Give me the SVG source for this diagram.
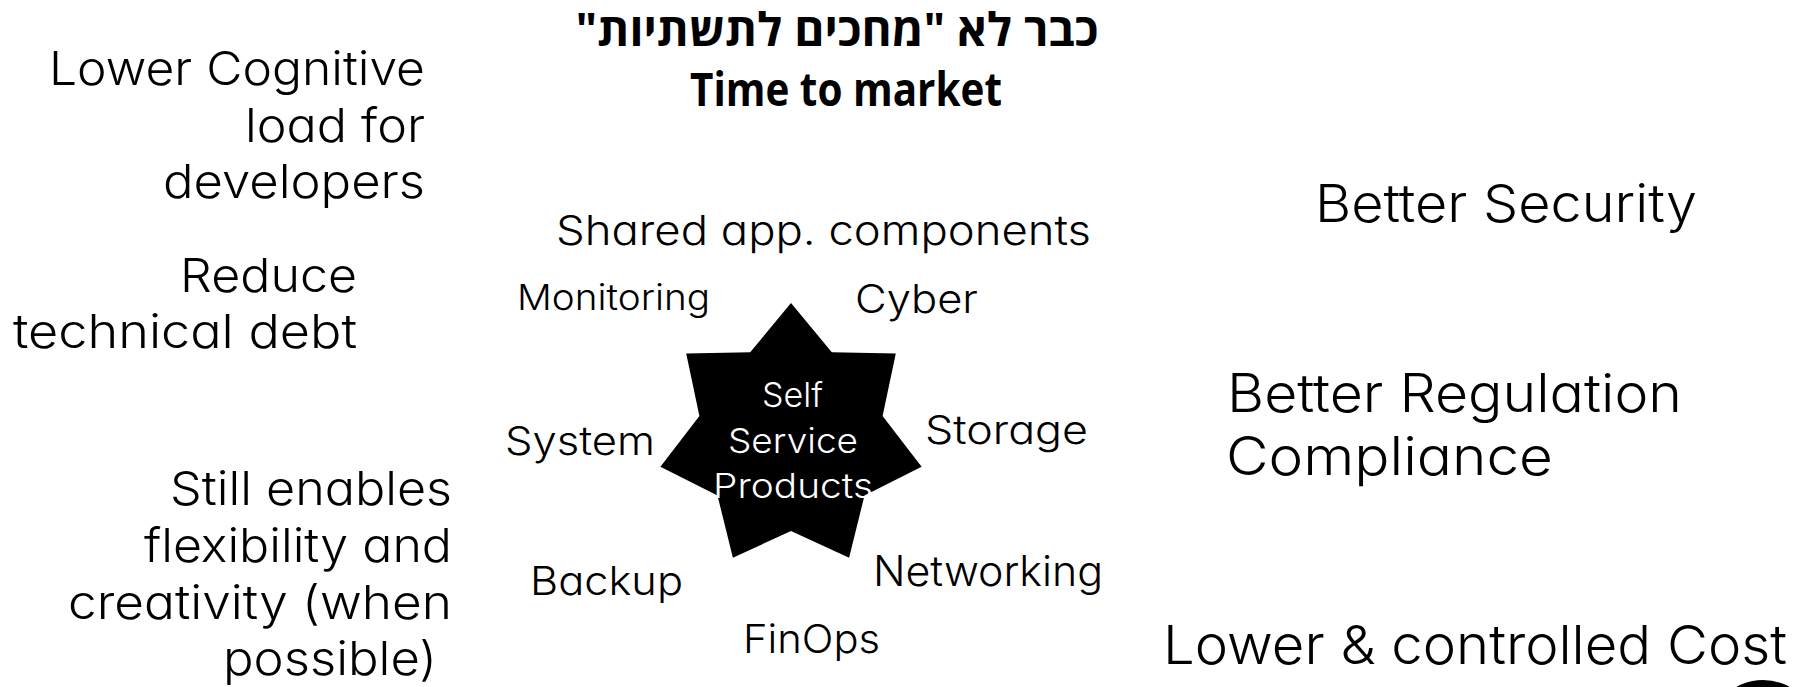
<svg xmlns="http://www.w3.org/2000/svg" width="1808" height="687" viewBox="0 0 1808 687">
<style>
.t{font-family:Inter,"Noto Sans",sans-serif;font-weight:300;fill:#000;font-feature-settings:"cv11" 1;}
.w{fill:#fff;}
.b{font-family:"Open Sans","Liberation Sans","DejaVu Sans",sans-serif;font-weight:700;fill:#000;}
</style>
<rect width="1808" height="687" fill="#fff"/>
<g id="title">
<text class="b" x="837" y="46" font-size="46" text-anchor="middle" direction="rtl">כבר לא "מחכים לתשתיות"</text>
<text class="b" x="690" y="106" font-size="46" textLength="312" lengthAdjust="spacingAndGlyphs">Time to market</text>
</g>
<g id="left-benefits">
<text class="t" x="49" y="85" font-size="47" textLength="376" lengthAdjust="spacingAndGlyphs">Lower Cognitive</text>
<text class="t" x="245" y="141.5" font-size="47" textLength="180" lengthAdjust="spacingAndGlyphs">load for</text>
<text class="t" x="163" y="198" font-size="47" textLength="262" lengthAdjust="spacingAndGlyphs">developers</text>
<text class="t" x="180" y="291.5" font-size="47" textLength="177" lengthAdjust="spacingAndGlyphs">Reduce</text>
<text class="t" x="13" y="348" font-size="47" textLength="344" lengthAdjust="spacingAndGlyphs">technical debt</text>
<text class="t" x="170" y="505" font-size="47" textLength="282" lengthAdjust="spacingAndGlyphs">Still enables</text>
<text class="t" x="144" y="562" font-size="47" textLength="308" lengthAdjust="spacingAndGlyphs">flexibility and</text>
<text class="t" x="68" y="619" font-size="47" textLength="384" lengthAdjust="spacingAndGlyphs">creativity (when</text>
<text class="t" x="223" y="675" font-size="47" textLength="214" lengthAdjust="spacingAndGlyphs">possible)</text>
</g>
<g id="star">
<polygon fill="#000" points="791,303 831.8,352.3 895.8,353.5 882.6,416.1 921.6,466.8 864.5,495.6 849.1,557.7 791,531 732.9,557.7 717.5,495.6 660.4,466.8 699.4,416.1 686.2,353.5 750.2,352.3"/>
<text class="t w" x="762" y="407" font-size="34" textLength="61" lengthAdjust="spacingAndGlyphs">Self</text>
<text class="t w" x="728" y="453" font-size="34" textLength="130" lengthAdjust="spacingAndGlyphs">Service</text>
<text class="t w" x="713" y="498" font-size="34" textLength="160" lengthAdjust="spacingAndGlyphs">Products</text>
</g>
<g id="products">
<text class="t" x="556" y="245" font-size="41" textLength="535" lengthAdjust="spacingAndGlyphs">Shared app. components</text>
<text class="t" x="517" y="310" font-size="36" textLength="193" lengthAdjust="spacingAndGlyphs">Monitoring</text>
<text class="t" x="855" y="313" font-size="40" textLength="123" lengthAdjust="spacingAndGlyphs">Cyber</text>
<text class="t" x="505" y="455" font-size="40" textLength="150" lengthAdjust="spacingAndGlyphs">System</text>
<text class="t" x="925" y="444" font-size="40" textLength="163" lengthAdjust="spacingAndGlyphs">Storage</text>
<text class="t" x="873" y="586" font-size="42" textLength="230" lengthAdjust="spacingAndGlyphs">Networking</text>
<text class="t" x="530" y="595" font-size="40" textLength="153" lengthAdjust="spacingAndGlyphs">Backup</text>
<text class="t" x="743" y="653" font-size="40" textLength="137" lengthAdjust="spacingAndGlyphs">FinOps</text>
</g>
<g id="right-benefits">
<text class="t" x="1315" y="222" font-size="52" textLength="382" lengthAdjust="spacingAndGlyphs">Better Security</text>
<text class="t" x="1227" y="412" font-size="53" textLength="455" lengthAdjust="spacingAndGlyphs">Better Regulation</text>
<text class="t" x="1226" y="475" font-size="53" textLength="327" lengthAdjust="spacingAndGlyphs">Compliance</text>
<text class="t" x="1163" y="664" font-size="54" textLength="624" lengthAdjust="spacingAndGlyphs">Lower &amp; controlled Cost</text>
</g>
<g id="corner">
<circle cx="1763" cy="734" r="54" fill="#000"/>
</g>
<g id="connectors"/>
</svg>
